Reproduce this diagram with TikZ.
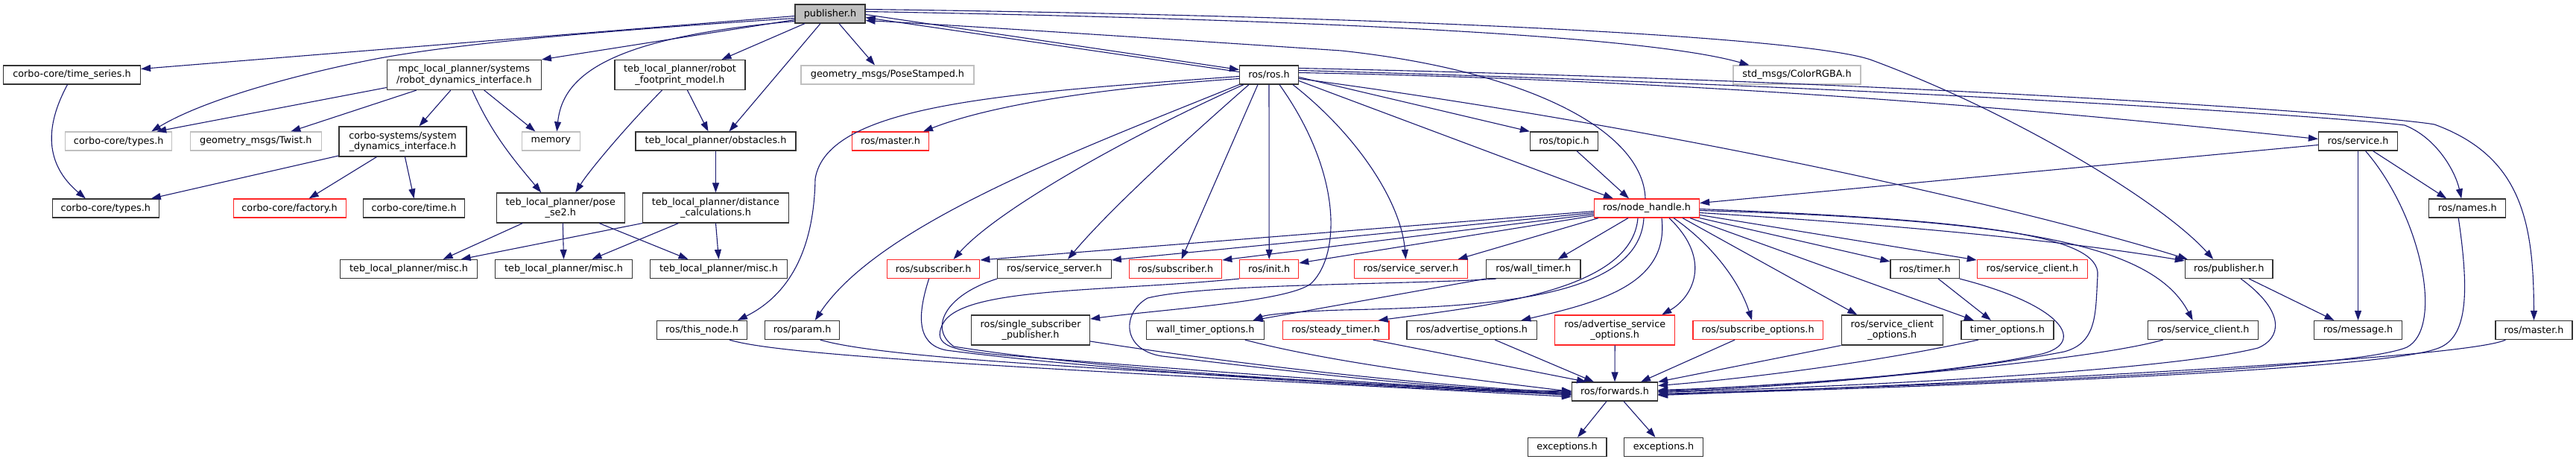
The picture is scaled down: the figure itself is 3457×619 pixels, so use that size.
\documentclass[tikz,border=0pt]{standalone}
\usepackage{fontspec}
\setmainfont{DejaVu Sans}
\usepackage{tikz}
\usetikzlibrary{arrows.meta}
\definecolor{edgeblue}{HTML}{191970}
\begin{document}
\begin{tikzpicture}[x=1pt,y=-1pt,
	box/.style={rectangle, draw=black!80, line width=1.2pt, inner sep=0pt, minimum height=25pt, align=center, font=\fontsize{12.8}{14.5}\selectfont},
	two/.style={minimum height=40pt},
	ext/.style={box, draw=black!25},
	miss/.style={box, draw=red!85},
	rootbox/.style={box, fill=black!25},
	dep/.style={draw=edgeblue, line width=1.1pt, -{Triangle[length=13pt,width=9pt]}}]
\useasboundingbox (0,0) rectangle (3457,619);
\node [rootbox, minimum width=94pt] (pub) at (1114,18.5) {publisher.h};
\node [box, minimum width=184pt] (ts) at (96.5,100.5) {corbo-core/time\_series.h};
\node [box, two, minimum width=207pt] (mpc) at (622.8,100.5) {mpc\_local\_planner/systems\\/robot\_dynamics\_interface.h};
\node [box, two, minimum width=175pt] (fp) at (912.5,100.5) {teb\_local\_planner/robot\\\_footprint\_model.h};
\node [ext, minimum width=232pt] (pose) at (1191,100.5) {geometry\_msgs/PoseStamped.h};
\node [box, minimum width=79pt] (rosh) at (1703,100.5) {ros/ros.h};
\node [ext, minimum width=171pt] (rgba) at (2411.5,100.5) {std\_msgs/ColorRGBA.h};
\node [ext, minimum width=143pt] (typesA) at (159.2,189.5) {corbo-core/types.h};
\node [ext, minimum width=176pt] (twist) at (343.3,189.5) {geometry\_msgs/Twist.h};
\node [box, two, minimum width=171pt] (csys) at (540.5,190) {corbo-systems/system\\\_dynamics\_interface.h};
\node [ext, minimum width=78pt] (mem) at (739.3,189.5) {memory};
\node [box, minimum width=215pt] (obst) at (960.5,189.5) {teb\_local\_planner/obstacles.h};
\node [miss, minimum width=103pt] (masterA) at (1195,189.5) {ros/master.h};
\node [box, minimum width=91pt] (topic) at (2099,189.5) {ros/topic.h};
\node [box, minimum width=106pt] (service) at (3164.5,189.5) {ros/service.h};
\node [box, minimum width=143pt] (typesB) at (141.8,279.5) {corbo-core/types.h};
\node [miss, minimum width=151pt] (factory) at (388.6,279.5) {corbo-core/factory.h};
\node [box, minimum width=136pt] (ctime) at (555.6,279.5) {corbo-core/time.h};
\node [box, two, minimum width=172pt] (se2) at (752.3,279) {teb\_local\_planner/pose\\\_se2.h};
\node [box, two, minimum width=196pt] (dist) at (960.5,279) {teb\_local\_planner/distance\\\_calculations.h};
\node [miss, minimum width=141pt] (nh) at (2210,279.5) {ros/node\_handle.h};
\node [box, minimum width=103pt] (names) at (3311.2,279.5) {ros/names.h};
\node [box, minimum width=184pt] (miscA) at (548.6,361) {teb\_local\_planner/misc.h};
\node [box, minimum width=184pt] (miscB) at (756.5,361) {teb\_local\_planner/misc.h};
\node [box, minimum width=184pt] (miscC) at (964.5,361) {teb\_local\_planner/misc.h};
\node [miss, minimum width=124.4pt] (subA) at (1252.6,361) {ros/subscriber.h};
\node [box, minimum width=152.3pt] (ssrvA) at (1415,361) {ros/service\_server.h};
\node [miss, minimum width=124.4pt] (subB) at (1577.5,361) {ros/subscriber.h};
\node [miss, minimum width=79pt] (init) at (1703.2,361) {ros/init.h};
\node [miss, minimum width=152.7pt] (ssrvB) at (1893.5,361) {ros/service\_server.h};
\node [box, minimum width=126.7pt] (wtimer) at (2057.7,361) {ros/wall\_timer.h};
\node [box, minimum width=92.2pt] (timer) at (2583.1,361) {ros/timer.h};
\node [miss, minimum width=148.2pt] (sclientA) at (2727.4,361) {ros/service\_client.h};
\node [box, minimum width=117.7pt] (rpub) at (2991.2,361) {ros/publisher.h};
\node [box, minimum width=121.3pt] (thisnode) at (942,443) {ros/this\_node.h};
\node [box, minimum width=100pt] (param) at (1076.7,443) {ros/param.h};
\node [box, two, minimum width=158.8pt] (ssp) at (1383.1,443) {ros/single\_subscriber\\\_publisher.h};
\node [box, minimum width=158pt] (wto) at (1617.7,443) {wall\_timer\_options.h};
\node [miss, minimum width=142.7pt] (steady) at (1792.6,443) {ros/steady\_timer.h};
\node [box, minimum width=174.5pt] (advo) at (1975.3,443) {ros/advertise\_options.h};
\node [miss, two, minimum width=161.2pt] (adso) at (2167.2,443) {ros/advertise\_service\\\_options.h};
\node [miss, minimum width=174.4pt] (subo) at (2359.1,443) {ros/subscribe\_options.h};
\node [box, two, minimum width=136.2pt] (scoA) at (2539.3,443) {ros/service\_client\\\_options.h};
\node [box, minimum width=124pt] (tio) at (2693.9,443) {timer\_options.h};
\node [box, minimum width=148.1pt] (sclientB) at (2956.7,443) {ros/service\_client.h};
\node [box, minimum width=117.6pt] (msg) at (3164.5,443) {ros/message.h};
\node [box, minimum width=103pt] (masterB) at (3400.5,443) {ros/master.h};
\node [box, minimum width=115pt] (fwd) at (2167,525.5) {ros/forwards.h};
\node [box, minimum width=105.6pt] (excA) at (2103.1,600) {exceptions.h};
\node [box, minimum width=105.6pt] (excB) at (2232.5,600) {exceptions.h};
\draw[dep] ([yshift=-3pt]pub.west) -- ([yshift=8pt]ts.east);
\draw[dep] ([yshift=-6pt]pub.west) .. controls (800,42) and (620,58) .. (510,78) .. controls (420,95) and (280,130) .. ([xshift=44pt]typesA.north);
\draw[dep] ([yshift=-8pt]pub.west) -- (mpc.north east);
\draw[dep] ([yshift=-10pt]pub.west) .. controls (820,50) and (755,100) .. ([xshift=8pt]mem.north);
\draw[dep] ([xshift=-34pt]pub.south) -- ([xshift=56pt]fp.north);
\draw[dep] ([xshift=-13pt]pub.south) -- ([xshift=18pt]obst.north);
\draw[dep] ([xshift=12pt]pub.south) -- ([xshift=-17pt]pose.north);
\draw[dep] ([yshift=-1pt]pub.east) -- ([yshift=7pt]rosh.west);
\draw[dep] ([yshift=4pt]rosh.west) -- ([yshift=-5pt]pub.east);
\draw[dep] ([yshift=3pt]pub.east) .. controls (1700,25) and (2200,45) .. ([xshift=-64pt]rgba.north);
\draw[dep] ([yshift=6pt]pub.east) .. controls (1900,22) and (2420,50) .. (2510,80) .. controls (2700,150) and (2900,270) .. ([xshift=-21pt]rpub.north);
\draw[dep] ([xshift=-2pt]nh.north) .. controls (2205,175) and (2050,95) .. (1800,68) .. controls (1500,48) and (1250,32) .. ([yshift=-9pt]pub.east);
\draw[dep] ([xshift=-6pt]ts.south) .. controls (60,170) and (60,220) .. ([xshift=-27pt]typesB.north);
\draw[dep] ([yshift=-17pt]mpc.west) -- ([xshift=51pt]typesA.north);
\draw[dep] ([xshift=-64pt]mpc.south) -- ([xshift=47pt]twist.north);
\draw[dep] ([xshift=-18pt]mpc.south) -- ([xshift=22pt]csys.north);
\draw[dep] ([xshift=27pt]mpc.south) -- ([xshift=-21pt]mem.north);
\draw[dep] ([xshift=11pt]mpc.south) .. controls (660,180) and (690,215) .. ([xshift=-26pt]se2.north);
\draw[dep] ([yshift=-19pt]csys.west) -- ([xshift=61pt]typesB.north);
\draw[dep] ([xshift=-35pt]csys.south) -- ([xshift=26pt]factory.north);
\draw[dep] ([xshift=3pt]csys.south) -- (ctime.north);
\draw[dep] ([xshift=-24pt]fp.south) .. controls (840,170) and (790,230) .. ([xshift=20pt]se2.north);
\draw[dep] ([xshift=10pt]fp.south) -- ([xshift=-10pt]obst.north);
\draw[dep] (obst.south) -- (dist.north);
\draw[dep] ([xshift=-51pt]se2.south) -- ([xshift=46pt]miscA.north);
\draw[dep] ([xshift=3pt]se2.south) -- (miscB.north);
\draw[dep] ([xshift=52pt]se2.south) -- ([xshift=-41pt]miscC.north);
\draw[dep] (dist.south west) -- ([xshift=70pt]miscA.north);
\draw[dep] ([xshift=-50pt]dist.south) -- ([xshift=38pt]miscB.north);
\draw[dep] (dist.south) -- (miscC.north);
\draw[dep] ([yshift=-5pt]rosh.west) .. controls (1450,120) and (1320,145) .. ([xshift=44pt]masterA.north);
\draw[dep] ([yshift=-2pt]rosh.west) .. controls (1350,125) and (1110,140) .. (1094,240) .. controls (1092,360) and (1040,405) .. ([xshift=48pt]thisnode.north);
\draw[dep] (rosh.south west) .. controls (1450,200) and (1180,300) .. ([xshift=17pt]param.north);
\draw[dep] ([xshift=-34pt]rosh.south) .. controls (1520,180) and (1340,280) .. ([xshift=27pt]subA.north);
\draw[dep] ([xshift=-27pt]rosh.south) .. controls (1600,180) and (1490,280) .. ([xshift=18pt]ssrvA.north);
\draw[dep] ([xshift=-15pt]rosh.south) -- ([xshift=8pt]subB.north);
\draw[dep] (rosh.south) -- (init.north);
\draw[dep] ([xshift=14pt]rosh.south) .. controls (1800,230) and (1800,340) .. (1760,380) .. controls (1730,405) and (1560,415) .. ([yshift=15pt]ssp.east);
\draw[dep] ([xshift=32pt]rosh.south) .. controls (1820,180) and (1880,270) .. ([xshift=-7pt]ssrvB.north);
\draw[dep] ([yshift=-3pt]rosh.east) -- (topic.north west);
\draw[dep] ([yshift=-8pt]rosh.east) -- ([xshift=-45pt]nh.north);
\draw[dep] ([xshift=17pt]topic.south) -- ([xshift=-24pt]nh.north);
\draw[dep] ([yshift=3pt]rosh.east) .. controls (2400,110) and (2900,165) .. ([yshift=3pt]service.west);
\draw[dep] ([yshift=6pt]rosh.east) .. controls (2500,115) and (3120,155) .. (3227,168) .. controls (3270,185) and (3295,230) .. ([xshift=-8pt]names.north);
\draw[dep] ([yshift=9pt]rosh.east) .. controls (2600,110) and (3200,155) .. (3267,167) .. controls (3385,210) and (3400,300) .. (masterB.north);
\draw[dep] ([yshift=-5pt]rosh.east) .. controls (2300,180) and (2750,290) .. ([xshift=4pt]rpub.north west);
\draw[dep] ([yshift=-5pt]service.west) -- ([yshift=7pt]nh.east);
\draw[dep] ([xshift=20pt]service.south) -- ([xshift=-28pt]names.north);
\draw[dep] (service.south) -- (msg.north);
\draw[dep] ([xshift=27pt]rpub.south) -- ([xshift=-32pt]msg.north);
\draw[dep] ([xshift=18pt]timer.south) -- ([xshift=-22pt]tio.north);
\draw[dep] ([yshift=-4pt]nh.west) -- ([yshift=12pt]subA.east);
\draw[dep] ([yshift=-6pt]nh.west) -- ([yshift=12pt]ssrvA.east);
\draw[dep] ([yshift=-8pt]nh.west) -- ([yshift=12pt]subB.east);
\draw[dep] ([yshift=-10pt]nh.west) -- ([yshift=8pt]init.east);
\draw[dep] ([xshift=-65pt]nh.south) -- ([xshift=63pt]ssrvB.north);
\draw[dep] ([xshift=-25pt]nh.south) -- ([xshift=33pt]wtimer.north);
\draw[dep] ([xshift=-12pt]nh.south) .. controls (2190,390) and (2000,410) .. ([xshift=57pt]steady.north);
\draw[dep] ([xshift=-4pt]nh.south) .. controls (2200,400) and (2000,412) .. (1800,416) .. controls (1740,418) and (1700,422) .. ([xshift=64pt]wto.north);
\draw[dep] ([xshift=20pt]nh.south) .. controls (2240,380) and (2150,405) .. ([xshift=66pt]advo.north);
\draw[dep] ([xshift=30pt]nh.south) .. controls (2300,350) and (2270,400) .. ([xshift=63pt]adso.north);
\draw[dep] ([xshift=36pt]nh.south) .. controls (2300,330) and (2335,380) .. ([xshift=-8pt]subo.north);
\draw[dep] ([xshift=48pt]nh.south) -- ([xshift=-47pt]scoA.north);
\draw[dep] ([xshift=58pt]nh.south) -- ([xshift=-45pt]tio.north);
\draw[dep] (nh.south east) -- ([yshift=10pt]timer.west);
\draw[dep] ([yshift=-9pt]nh.east) -- ([yshift=12pt]sclientA.west);
\draw[dep] ([yshift=-6pt]nh.east) .. controls (2600,305) and (2800,328) .. ([yshift=11pt]rpub.west);
\draw[dep] ([yshift=-3pt]nh.east) .. controls (2720,295) and (2890,330) .. ([xshift=-14pt]sclientB.north);
\draw[dep] (wtimer.south west) -- ([xshift=64pt]wto.north);
\draw[dep] ([yshift=-1pt]nh.east) .. controls (2650,295) and (2820,315) .. (2815,370) .. controls (2812,420) and (2815,460) .. (2770,472) .. controls (2600,505) and (2350,522) .. (fwd.east);
\draw[dep] ([xshift=10pt]service.south) .. controls (3250,290) and (3280,440) .. (3230,466) .. controls (3150,500) and (2500,520) .. ([yshift=-3pt]fwd.east);
\draw[dep] ([xshift=-12pt]names.south) .. controls (3315,400) and (3310,455) .. (3270,468) .. controls (3180,500) and (2500,522) .. ([yshift=-4pt]fwd.east);
\draw[dep] ([xshift=-38pt]masterB.south) .. controls (3300,485) and (2500,520) .. ([yshift=-5pt]fwd.east);
\draw[dep] ([xshift=16pt]rpub.south) .. controls (3070,420) and (3060,455) .. (3030,467) .. controls (2900,500) and (2450,520) .. ([yshift=-1pt]fwd.east);
\draw[dep] (timer.south east) .. controls (2770,410) and (2800,460) .. (2740,475) .. controls (2600,505) and (2350,520) .. ([yshift=2pt]fwd.east);
\draw[dep] ([xshift=-39pt]tio.south) .. controls (2500,490) and (2320,510) .. ([yshift=8pt]fwd.east);
\draw[dep] (scoA.south west) -- (fwd.north east);
\draw[dep] ([xshift=-54pt]sclientB.south) .. controls (2800,485) and (2450,515) .. ([yshift=1pt]fwd.east);
\draw[dep] ([xshift=37pt]thisnode.south) .. controls (1050,478) and (1400,495) .. ([yshift=-7pt]fwd.west);
\draw[dep] ([xshift=24pt]param.south) .. controls (1200,485) and (1600,500) .. ([yshift=-5pt]fwd.west);
\draw[dep] ([xshift=-6pt]subA.south) .. controls (1232,420) and (1228,462) .. (1270,470) .. controls (1500,500) and (1900,522) .. ([yshift=-4pt]fwd.west);
\draw[dep] (ssrvA.south west) .. controls (1270,395) and (1245,440) .. (1280,465) .. controls (1500,500) and (1900,520) .. ([yshift=-3pt]fwd.west);
\draw[dep] (init.south west) .. controls (1480,392) and (1290,385) .. (1265,435) .. controls (1250,465) and (1280,470) .. (1340,476) .. controls (1700,505) and (1950,522) .. ([yshift=-2pt]fwd.west);
\draw[dep] ([yshift=-15pt]ssp.east) .. controls (1700,495) and (1950,520) .. ([yshift=-1pt]fwd.west);
\draw[dep] ([xshift=53pt]wto.south) .. controls (1800,490) and (2000,512) .. (fwd.west);
\draw[dep] ([xshift=-50pt]wtimer.south) .. controls (1900,382) and (1620,380) .. (1540,400) .. controls (1505,420) and (1505,470) .. (1560,478) .. controls (1750,500) and (1950,525) .. ([yshift=1pt]fwd.west);
\draw[dep] ([xshift=50pt]steady.south) -- ([xshift=-38pt]fwd.north);
\draw[dep] ([xshift=31pt]advo.south) -- ([xshift=-28pt]fwd.north);
\draw[dep] (adso.south) -- (fwd.north);
\draw[dep] ([xshift=-31pt]subo.south) -- ([xshift=35pt]fwd.north);
\draw[dep] ([xshift=-11pt]fwd.south) -- ([xshift=14pt]excA.north);
\draw[dep] ([xshift=12pt]fwd.south) -- ([xshift=-11pt]excB.north);
\end{tikzpicture}
\end{document}
